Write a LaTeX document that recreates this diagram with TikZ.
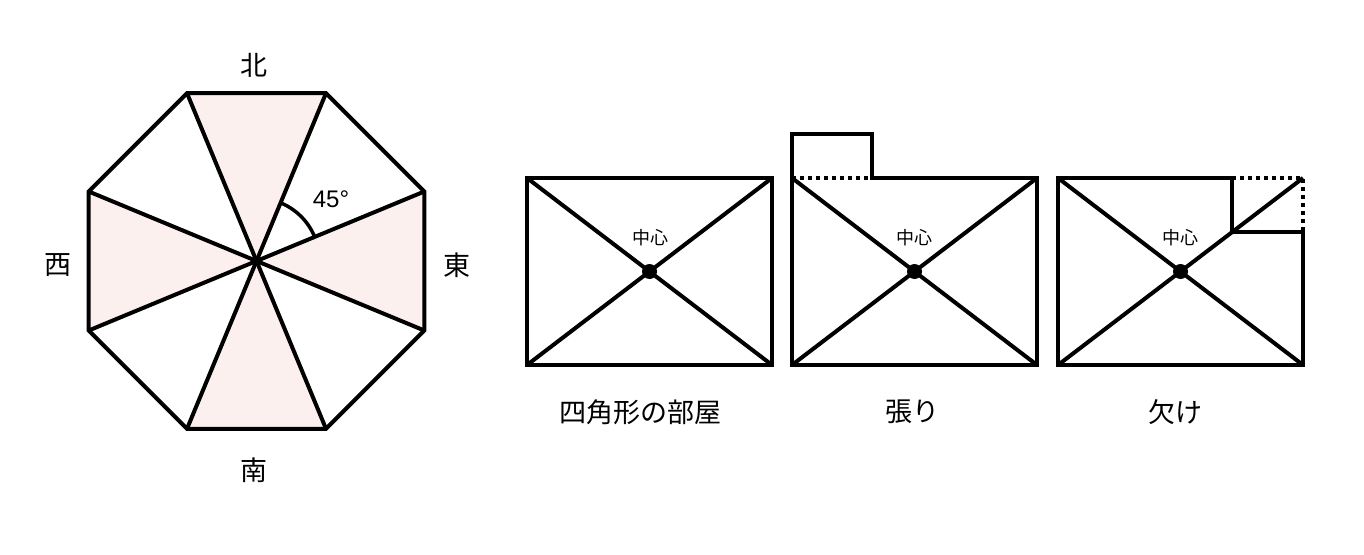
\documentclass[tikz,border=0pt]{standalone}
\usepackage{fontspec}
\setmainfont{Liberation Sans}
\newfontfamily\jp{Noto Sans CJK JP}
\usetikzlibrary{calc}
\definecolor{pinkfill}{HTML}{FCF0EF}
\tikzset{
  thick line/.style={line width=4pt, line join=miter},
  dotline/.style={line width=3.5pt, dash pattern=on 4pt off 4pt},
  dirlabel/.style={font=\jp\fontsize{27}{27}\selectfont, inner sep=0pt},
  roomlabel/.style={font=\jp\fontsize{27}{27}\selectfont, inner sep=0pt},
  centerlabel/.style={font=\jp\fontsize{18}{18}\selectfont, inner sep=0pt},
  dotmark/.style={fill=black}
}
\begin{document}
\begin{tikzpicture}[x=1pt,y=-1pt]
\useasboundingbox (0,0) rectangle (1364,554);
% ---------- octagon ----------
\coordinate (c) at (256.5,261);
\foreach \i/\a in {1/-67.5,2/-22.5,3/22.5,4/67.5,5/112.5,6/157.5,7/202.5,8/247.5}{
  \coordinate (v\i) at ($(c)+(\a:181.6)$);
}
% shaded sectors: top (v8,v1), right (v2,v3), bottom (v4,v5), left (v6,v7)
\fill[pinkfill] (c) -- (v8) -- (v1) -- cycle;
\fill[pinkfill] (c) -- (v2) -- (v3) -- cycle;
\fill[pinkfill] (c) -- (v4) -- (v5) -- cycle;
\fill[pinkfill] (c) -- (v6) -- (v7) -- cycle;
\draw[thick line] (v1) -- (v2) -- (v3) -- (v4) -- (v5) -- (v6) -- (v7) -- (v8) -- cycle;
\draw[thick line] (v1) -- (v5);
\draw[thick line] (v2) -- (v6);
\draw[thick line] (v3) -- (v7);
\draw[thick line] (v4) -- (v8);
\draw[line width=3.5pt] ($(c)+(-67.5:63)$) arc[start angle=-67.5, end angle=-22.5, radius=63];
\node[font=\fontsize{24}{24}\selectfont, inner sep=0pt] (ang) at (331,199) {45°};
\node[dirlabel] (north) at (254,65) {北};
\node[dirlabel] (south) at (254,470) {南};
\node[dirlabel] (west) at (58,265) {西};
\node[dirlabel] (east) at (457,265) {東};
% ---------- room 1 ----------
\coordinate (a1) at (527,178);
\coordinate (a2) at (772,178);
\coordinate (a3) at (772,365);
\coordinate (a4) at (527,365);
\draw[thick line] (a1) -- (a2) -- (a3) -- (a4) -- cycle;
\draw[thick line] (a1) -- (a3);
\draw[thick line] (a2) -- (a4);
\fill[dotmark] (649.5,271.5) circle (7.5);
\node[centerlabel] (ca) at (650,238) {中心};
\node[roomlabel] (la) at (640,412) {四角形の部屋};
% ---------- room 2 ----------
\coordinate (b1) at (792,178);
\coordinate (b2) at (1037,178);
\coordinate (b3) at (1037,365);
\coordinate (b4) at (792,365);
\coordinate (be1) at (792,134);
\coordinate (be2) at (872,134);
\coordinate (be3) at (872,178);
\draw[dotline] (b1) -- (be3);
\draw[thick line] (b4) -- (be1) -- (be2) -- (be3) -- (b2) -- (b3) -- cycle;
\draw[thick line] (b1) -- (b3);
\draw[thick line] (b2) -- (b4);
\fill[dotmark] (914.5,271.5) circle (7.5);
\node[centerlabel] (cb) at (914,238) {中心};
\node[roomlabel] (lb) at (912,412) {張り};
% ---------- room 3 ----------
\coordinate (d1) at (1058,178);
\coordinate (d2) at (1303,178);
\coordinate (d3) at (1303,365);
\coordinate (d4) at (1058,365);
\coordinate (dn1) at (1232,178);
\coordinate (dn2) at (1232,232.2);
\coordinate (dn3) at (1303,232.2);
\draw[dotline] (dn1) -- (d2) -- (dn3);
\draw[thick line] (d1) -- (dn1) -- (dn2) -- (dn3) -- (d3) -- (d4) -- cycle;
\draw[thick line] (d1) -- (d3);
\draw[thick line] (d2) -- (d4);
\fill[dotmark] (1180.5,271.5) circle (7.5);
\node[centerlabel] (cd) at (1180,238) {中心};
\node[roomlabel] (ld) at (1175,412) {欠け};
\end{tikzpicture}
\end{document}
